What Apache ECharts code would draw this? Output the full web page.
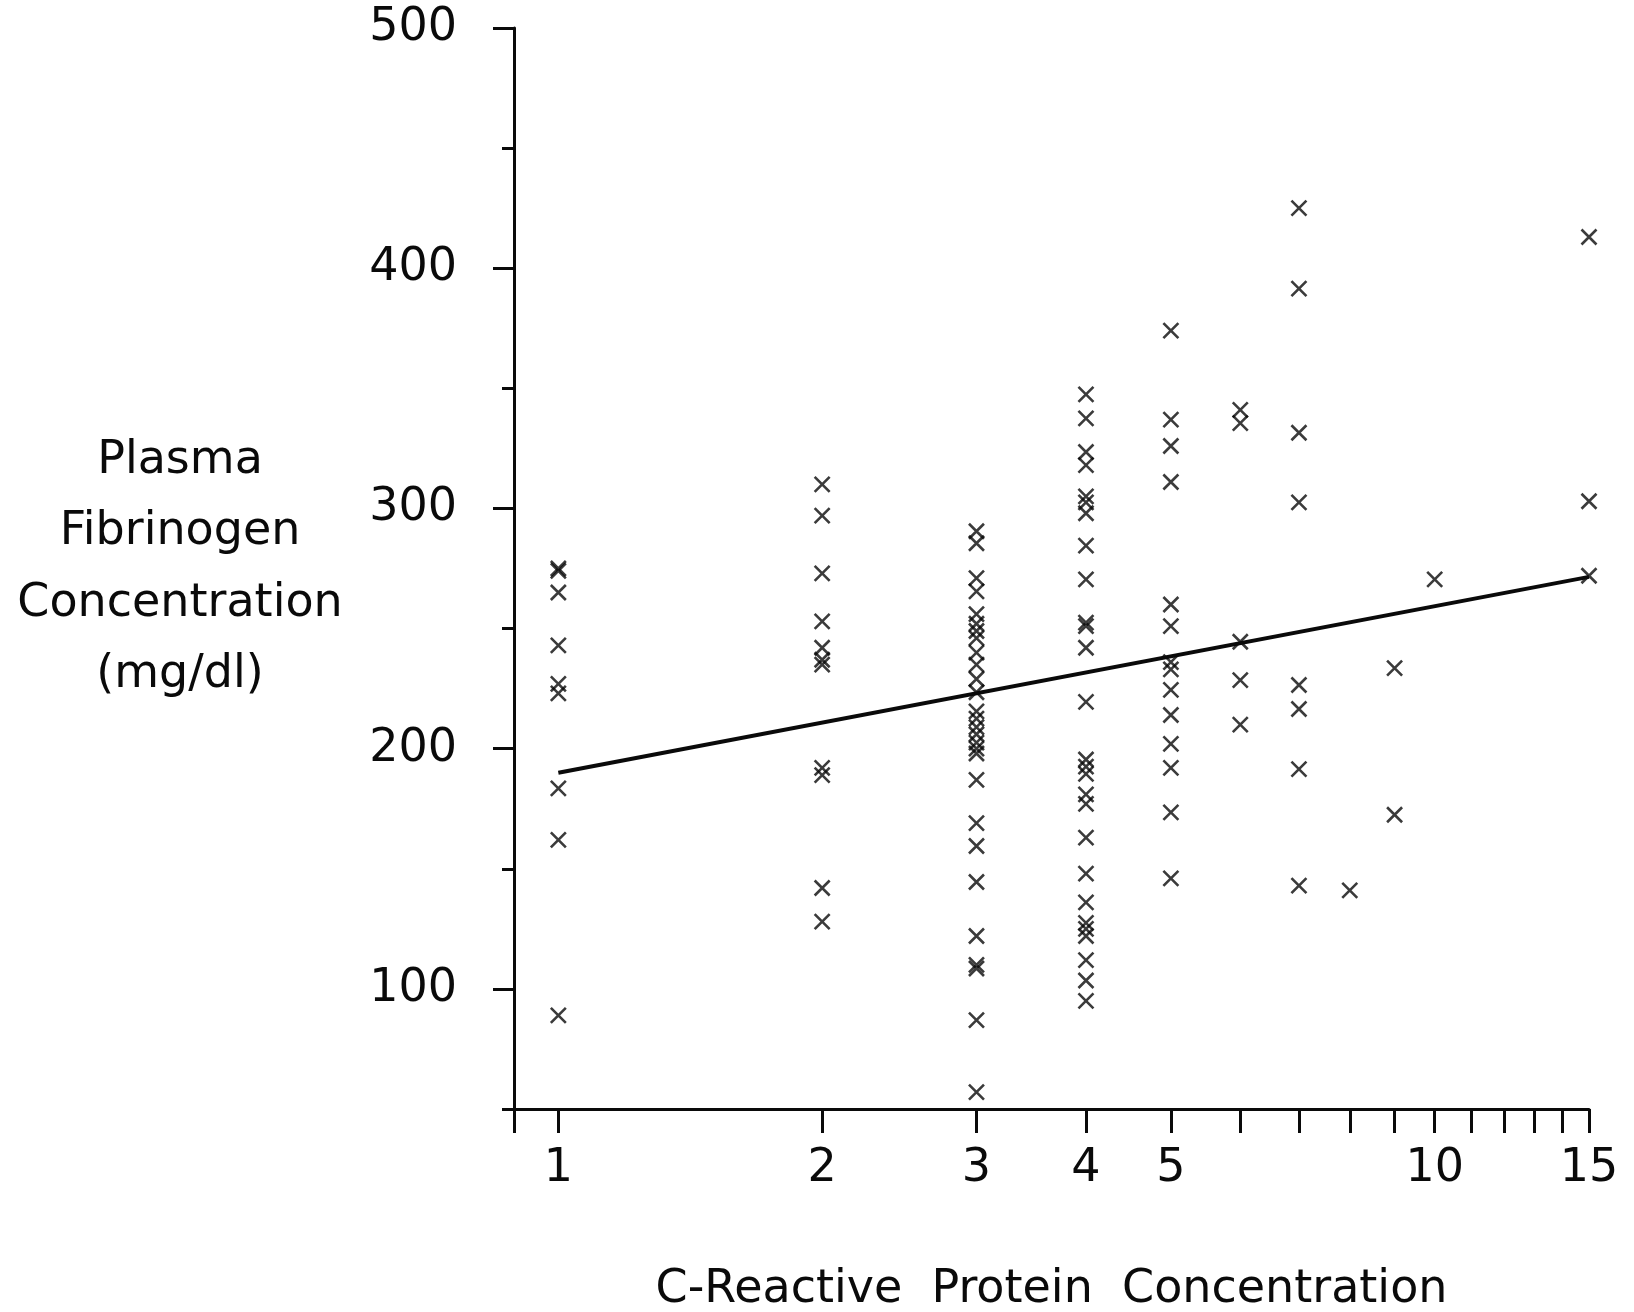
<!DOCTYPE html>
<html>
<head>
<meta charset="utf-8">
<title>Plasma fibrinogen vs C-reactive protein</title>
<script src="https://cdn.jsdelivr.net/npm/echarts@6/dist/echarts.min.js"></script>
<style>
  html, body { margin: 0; padding: 0; background: #ffffff; }
  #chart { width: 1634px; height: 1312px; }
</style>
</head>
<body>
<div id="chart"></div>
<script>
// C-reactive protein levels (x, log scale) and plasma fibrinogen (mg/dl) measured at each level
const crpLevels = [1, 2, 3, 4, 5, 6, 7, 8, 9, 10, 15];

const fibCrp1  = [275, 274, 265, 243, 227, 223, 183.5, 162, 89];
const fibCrp2  = [310, 297, 273, 253, 242, 237, 235, 192, 189, 142, 128];
const fibCrp3  = [290.5, 285.5, 271, 265.5, 256, 252, 249, 246, 240, 235, 229, 223.5,
                  215.5, 212.5, 209, 206, 202.5, 200, 198, 187, 169, 159.5, 144.5,
                  122, 110, 108.5, 87, 57];
const fibCrp4  = [347.5, 337.5, 323.5, 318, 305, 302.5, 298, 284.5, 270.5, 252.5, 251,
                  242, 219.5, 195.5, 192.5, 189.5, 181, 177, 163, 148, 136, 127.5, 125,
                  122, 112, 103.5, 95];
const fibCrp5  = [374, 337, 326, 311, 260, 251, 236, 233, 224.5, 214, 202, 192, 173.5, 146];
const fibCrp6  = [341, 335.5, 244.5, 228.5, 210];
const fibCrp7  = [425, 391.5, 331.5, 302.5, 226.5, 216.5, 191.5, 143];
const fibCrp8  = [141];
const fibCrp9  = [233.5, 172.5];
const fibCrp10 = [270.5];
const fibCrp15 = [413, 303, 272];

const fibByLevel = [fibCrp1, fibCrp2, fibCrp3, fibCrp4, fibCrp5, fibCrp6,
                    fibCrp7, fibCrp8, fibCrp9, fibCrp10, fibCrp15];

// least-squares fit line end points (CRP, fibrinogen)
const fitCrp = [1, 15];
const fitFib = [190, 271.5];

// axis ranges and ticks
const xMin = 0.89, xMax = 15;
const xLabelValues = [1, 2, 3, 4, 5, 10, 15];
const xTickValues = [xMin, 1, 2, 3, 4, 5, 6, 7, 8, 9, 10, 11, 12, 13, 14, 15];
const yMin = 50, yMax = 500;
const yMajorTicks = [100, 200, 300, 400, 500];
const yMinorTicks = [50, 150, 250, 350, 450];

const xTitle = 'C-Reactive  Protein  Concentration';
const yTitleLines = ['Plasma', 'Fibrinogen', 'Concentration', '(mg/dl)'];

// the x axis is logarithmic: values are placed on a linear axis in log10 units
const lg = v => Math.log10(v);

const points = [];
crpLevels.forEach((crp, i) => {
  fibByLevel[i].forEach(f => points.push([lg(crp), f]));
});
const fitPoints = fitCrp.map((c, i) => [lg(c), fitFib[i]]);

const INK = '#0a0a0a';
const FONT = 'DejaVu Sans';

const chart = echarts.init(document.getElementById('chart'), null, { renderer: 'canvas' });

chart.setOption({
  animation: false,
  backgroundColor: '#ffffff',
  grid: { left: 514, right: 45, top: 28, bottom: 203, outerBoundsMode: 'none' },
  xAxis: {
    type: 'value',
    min: lg(xMin),
    max: lg(xMax),
    splitLine: { show: false },
    axisLine: { onZero: false, lineStyle: { color: INK, width: 3 } },
    axisTick: {
      customValues: xTickValues.map(lg),
      length: 24,
      lineStyle: { color: INK, width: 3 }
    },
    axisLabel: {
      customValues: xLabelValues.map(lg),
      formatter: v => String(Math.round(Math.pow(10, v))),
      margin: 37,
      fontSize: 46,
      fontFamily: FONT,
      color: INK
    },
    name: xTitle,
    nameLocation: 'middle',
    nameGap: 158,
    nameTextStyle: { fontSize: 46, fontFamily: FONT, color: INK, lineHeight: 46 }
  },
  yAxis: [
    {
      type: 'value',
      position: 'left',
      offset: 0,
      min: yMin,
      max: yMax,
      splitLine: { show: false },
      axisLine: { show: true, onZero: false, lineStyle: { color: INK, width: 3 } },
      axisTick: {
        customValues: yMajorTicks,
        length: 21,
        lineStyle: { color: INK, width: 3 }
      },
      axisLabel: {
        customValues: yMajorTicks,
        margin: 57,
        fontSize: 46,
        fontFamily: FONT,
        color: INK
      }
    },
    {
      type: 'value',
      position: 'left',
      offset: 0,
      min: yMin,
      max: yMax,
      splitLine: { show: false },
      axisLine: { show: false, onZero: false },
      axisTick: {
        show: true,
        customValues: yMinorTicks,
        length: 12,
        lineStyle: { color: INK, width: 3 }
      },
      axisLabel: { show: false }
    }
  ],
  graphic: [
    {
      type: 'text',
      x: 180,
      y: 568,
      style: {
        text: yTitleLines.join('\n'),
        font: '46px "DejaVu Sans"',
        fill: INK,
        align: 'center',
        verticalAlign: 'middle',
        lineHeight: 71.5
      }
    }
  ],
  series: [
    {
      type: 'line',
      data: fitPoints,
      yAxisIndex: 0,
      symbol: 'none',
      lineStyle: { color: INK, width: 4 },
      z: 2
    },
    {
      type: 'scatter',
      data: points,
      yAxisIndex: 0,
      symbol: 'path://M0 0L10 10M10 0L0 10',
      symbolSize: 15,
      itemStyle: { color: 'rgba(0,0,0,0)', borderColor: INK, borderWidth: 2.6 },
      z: 3
    }
  ]
});
</script>
</body>
</html>
